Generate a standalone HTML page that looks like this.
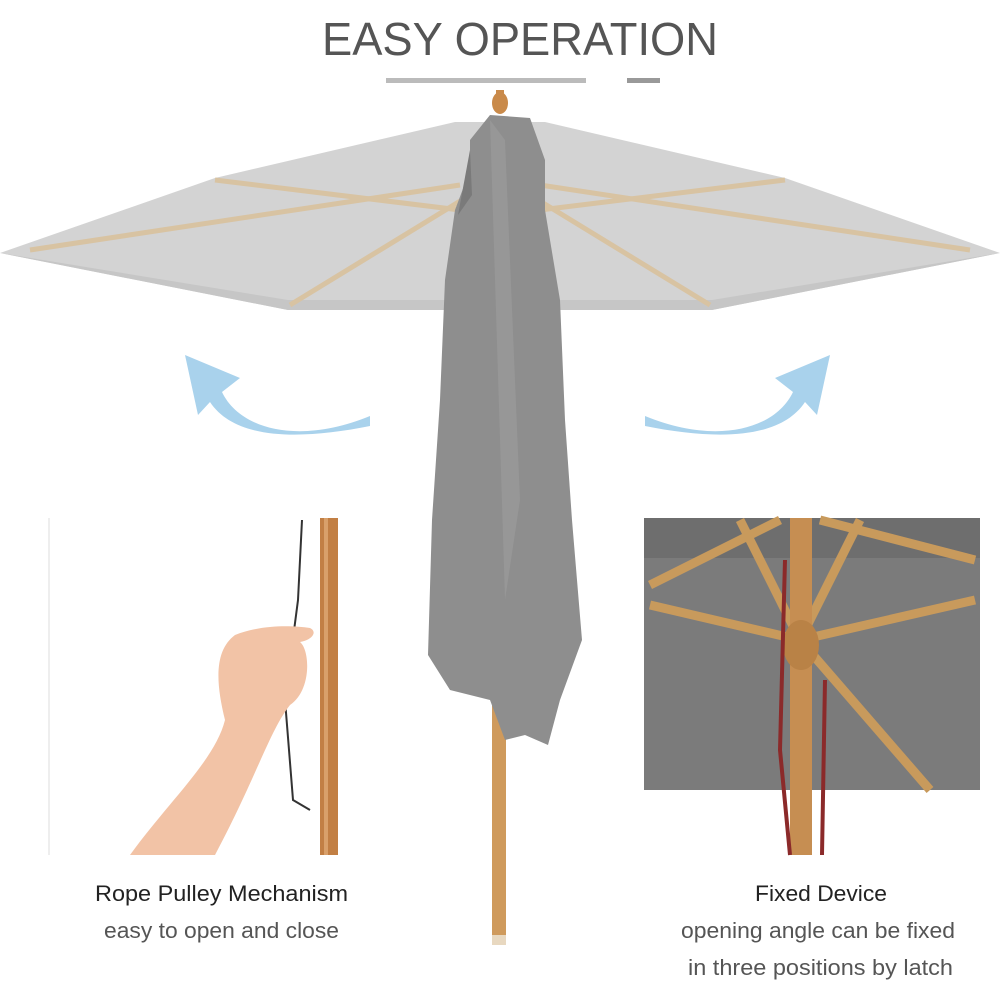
<!DOCTYPE html>
<html><head><meta charset="utf-8"><style>
html,body{margin:0;padding:0;background:#fff;}
svg{display:block;}
text{font-family:"Liberation Sans",sans-serif;}
</style></head><body>
<svg width="1000" height="1000" viewBox="0 0 1000 1000" xmlns="http://www.w3.org/2000/svg">
<rect width="1000" height="1000" fill="#fff"/>
<text x="322" y="55" font-size="46" fill="#555" textLength="396" lengthAdjust="spacingAndGlyphs">EASY OPERATION</text>
<rect x="386" y="78" width="200" height="5" fill="#bbb"/>
<rect x="627" y="78" width="33" height="5" fill="#999"/>
<!-- canopy -->
<polygon points="0,253 215,178 455,122 545,122 785,178 1000,253 712,310 288,310" fill="#d3d3d3"/>
<polygon points="0,253 288,310 712,310 1000,253 712,300 288,300" fill="#c6c6c6"/>
<g stroke="#d8c3a2" stroke-width="5" fill="none">
<line x1="30" y1="250" x2="460" y2="185"/>
<line x1="970" y1="250" x2="540" y2="185"/>
<line x1="290" y1="305" x2="470" y2="195"/>
<line x1="710" y1="305" x2="530" y2="195"/>
<line x1="215" y1="180" x2="460" y2="210"/>
<line x1="785" y1="180" x2="540" y2="210"/>
</g>
<!-- finial -->
<ellipse cx="500" cy="103" rx="8" ry="11" fill="#c98a4a"/>
<rect x="496" y="90" width="8" height="6" fill="#c98a4a"/>
<!-- pole -->
<rect x="492" y="690" width="14" height="255" fill="#cf9a5c"/>
<rect x="492" y="935" width="14" height="10" fill="#e8d8c0"/>
<!-- hanging fabric -->
<path d="M470,140 L490,115 L530,118 L545,160 L545,210 L560,300 L565,420 L572,520 L582,640 L560,700 L548,745 L525,735 L505,740 L490,700 L450,690 L428,655 L432,520 L440,400 L445,280 L455,210 L470,170 Z" fill="#8e8e8e"/>
<path d="M470,150 L458,215 L472,195 Z" fill="#7a7a7a"/>
<path d="M490,120 L505,140 L520,500 L505,600 Z" fill="#9c9c9c" opacity="0.6"/>
<!-- arrows -->
<path d="M370,416 C300,445 240,430 222,392 L240,378 L185,355 L198,415 L210,402 C235,440 300,440 370,426 Z" fill="#a9d2ec"/>
<path d="M645,416 C715,445 775,430 793,392 L775,378 L830,355 L817,415 L805,402 C780,440 715,440 645,426 Z" fill="#a9d2ec"/>
<!-- left inset -->
<rect x="48" y="518" width="2" height="337" fill="#eee"/>
<rect x="320" y="518" width="18" height="337" fill="#c27f44"/>
<rect x="324" y="518" width="4" height="337" fill="#d9a06a"/>
<path d="M302,520 L298,600 L285,700 L293,800 L310,810" stroke="#333" stroke-width="2" fill="none"/>
<path d="M130,855 C170,800 215,760 225,720 C215,680 215,650 235,635 C260,625 290,625 310,628 C318,632 312,640 300,642 C310,650 312,690 290,705 C270,730 255,780 215,855 Z" fill="#f2c3a6"/>
<!-- right inset -->
<rect x="644" y="518" width="336" height="272" fill="#7b7b7b"/>
<rect x="644" y="518" width="336" height="40" fill="#6e6e6e"/>
<g stroke="#c89a5c" stroke-width="9" fill="none">
<line x1="800" y1="640" x2="650" y2="605"/>
<line x1="800" y1="640" x2="740" y2="520"/>
<line x1="800" y1="640" x2="860" y2="520"/>
<line x1="800" y1="640" x2="975" y2="600"/>
<line x1="800" y1="640" x2="930" y2="790"/>
<line x1="650" y1="585" x2="780" y2="520"/>
<line x1="820" y1="520" x2="975" y2="560"/>
</g>
<rect x="790" y="518" width="22" height="337" fill="#c68e52"/>
<ellipse cx="801" cy="645" rx="18" ry="25" fill="#b98246"/>
<path d="M785,560 L780,750 L790,855 M825,680 L822,855" stroke="#8b2a2a" stroke-width="4" fill="none"/>
<!-- captions -->
<text x="95" y="901" font-size="22" fill="#222" textLength="253" lengthAdjust="spacingAndGlyphs">Rope Pulley Mechanism</text>
<text x="104" y="938" font-size="22" fill="#555" textLength="235" lengthAdjust="spacingAndGlyphs">easy to open and close</text>
<text x="755" y="901" font-size="22" fill="#222" textLength="132" lengthAdjust="spacingAndGlyphs">Fixed Device</text>
<text x="681" y="938" font-size="22" fill="#555" textLength="274" lengthAdjust="spacingAndGlyphs">opening angle can be fixed</text>
<text x="688" y="975" font-size="22" fill="#555" textLength="265" lengthAdjust="spacingAndGlyphs">in three positions by latch</text>
</svg>
</body></html>
